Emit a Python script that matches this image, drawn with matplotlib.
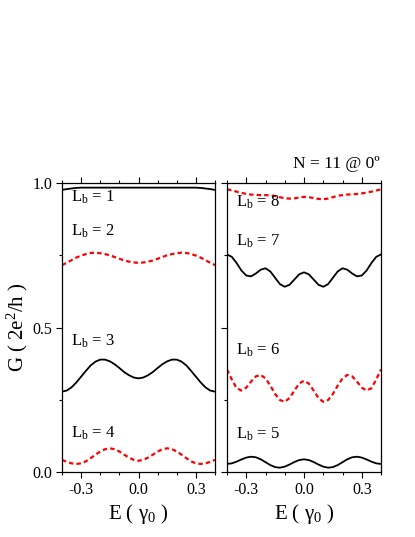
import numpy as np
import matplotlib
matplotlib.use("Agg")
import matplotlib.pyplot as plt
from matplotlib.ticker import MultipleLocator, FormatStrFormatter

plt.rcParams['font.family'] = ['Liberation Serif', 'DejaVu Serif']
plt.rcParams['mathtext.fontset'] = 'custom'
plt.rcParams['mathtext.rm'] = 'Liberation Serif'
plt.rcParams['mathtext.it'] = 'Liberation Serif:italic'

# energy grid, E in units of gamma_0
energy = np.round(np.arange(-0.4, 0.4001, 0.025), 3)


def mirror(half):
    # curves are symmetric about E = 0, half given from -0.4 to 0
    return half + half[-2::-1]


# conductance, left panel
g_lb1 = mirror([0.976, 0.979, 0.981, 0.983, 0.984, 0.984, 0.984, 0.984, 0.984,
                0.984, 0.984, 0.984, 0.984, 0.984, 0.984, 0.984, 0.984])
g_lb2 = mirror([0.716, 0.724, 0.733, 0.742, 0.749, 0.754, 0.758, 0.759, 0.757,
                0.754, 0.750, 0.744, 0.738, 0.732, 0.728, 0.725, 0.724])
g_lb3 = mirror([0.278, 0.282, 0.293, 0.310, 0.330, 0.350, 0.369, 0.382, 0.389,
                0.389, 0.383, 0.373, 0.360, 0.346, 0.335, 0.327, 0.324])
g_lb4 = mirror([0.042, 0.035, 0.030, 0.028, 0.030, 0.037, 0.048, 0.060, 0.071,
                0.079, 0.082, 0.079, 0.071, 0.060, 0.050, 0.042, 0.039])

# right panel
g_lb5 = mirror([0.028, 0.030, 0.036, 0.0435, 0.050, 0.053, 0.051, 0.044, 0.034,
                0.024, 0.017, 0.015, 0.0186, 0.026, 0.0346, 0.0414, 0.044])
g_lb6 = mirror([0.355, 0.320, 0.290, 0.282, 0.292, 0.313, 0.331, 0.336, 0.324,
                0.299, 0.270, 0.249, 0.243, 0.256, 0.282, 0.306, 0.316])
g_lb7 = mirror([0.753, 0.7445, 0.723, 0.697, 0.680, 0.677, 0.687, 0.700, 0.705,
                0.694, 0.672, 0.650, 0.641, 0.648, 0.666, 0.684, 0.691])
g_lb8 = [0.978, 0.975, 0.970, 0.966, 0.962, 0.960, 0.959, 0.958, 0.958,
         0.957, 0.955, 0.951, 0.947, 0.946, 0.947, 0.950, 0.952, 0.951,
         0.948, 0.945, 0.944, 0.946, 0.951, 0.956, 0.958, 0.960, 0.961,
         0.962, 0.964, 0.967, 0.970, 0.974, 0.978]

left_curves = [(g_lb1, 'solid'), (g_lb2, 'dash'), (g_lb3, 'solid'), (g_lb4, 'dash')]
right_curves = [(g_lb8, 'dash'), (g_lb7, 'solid'), (g_lb6, 'dash'), (g_lb5, 'solid')]

left_labels = [(1, 0.935), (2, 0.817), (3, 0.437), (4, 0.119)]
right_labels = [(8, 0.918), (7, 0.782), (6, 0.405), (5, 0.117)]

fig = plt.figure(figsize=(4.15, 5.37), dpi=100)
ax1 = fig.add_axes([0.1494, 0.1210, 0.3687, 0.5382])
ax2 = fig.add_axes([0.5470, 0.1210, 0.3711, 0.5382])


def draw(ax, curves, labels):
    for g, style in curves:
        if style == 'solid':
            ax.plot(energy, g, color='black', lw=1.3)
        else:
            ax.plot(energy, g, color='#ff0000', lw=1.6, linestyle=(0, (2, 1.4)))
    for n, y in labels:
        ax.text(-0.352, y, r"L$_\mathrm{b}$ = %d" % n, fontsize=12, va='baseline')
    ax.set_xlim(-0.4, 0.4)
    ax.set_ylim(0.0, 1.0)
    ax.xaxis.set_major_locator(MultipleLocator(0.3))
    ax.xaxis.set_minor_locator(MultipleLocator(0.1))
    ax.xaxis.set_major_formatter(FormatStrFormatter('%.1f'))
    ax.yaxis.set_major_locator(MultipleLocator(0.5))
    ax.yaxis.set_minor_locator(MultipleLocator(0.25))
    ax.yaxis.set_major_formatter(FormatStrFormatter('%.1f'))
    ax.tick_params(which='both', direction='out', top=True, right=False, width=0.8)
    ax.tick_params(which='major', length=4, labelsize=11.5, pad=3)
    ax.tick_params(which='minor', length=2.5)
    for s in ax.spines.values():
        s.set_linewidth(0.9)
    ax.set_xlabel(r"E ( γ$_\mathrm{0}$ )", fontsize=15, labelpad=3)


draw(ax1, left_curves, left_labels)
draw(ax2, right_curves, right_labels)

ax2.tick_params(labelleft=False)
ax1.set_ylabel(r"G ( 2e$^\mathrm{2}$/h )", fontsize=15, labelpad=2)

fig.text(0.916, 0.687, "N = 11 @ 0º", fontsize=12.5, ha='right', va='baseline')

plt.savefig("out.png", dpi=100)
